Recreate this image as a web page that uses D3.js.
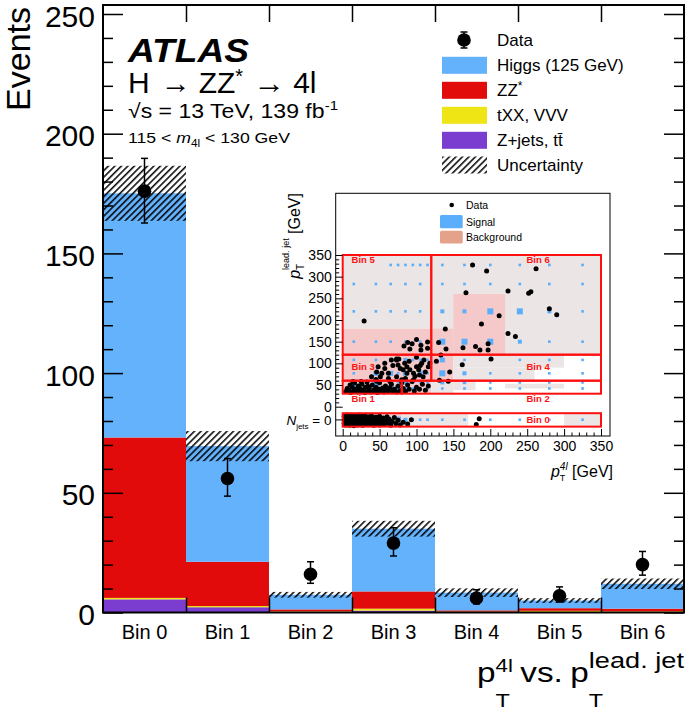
<!DOCTYPE html>
<html><head><meta charset="utf-8">
<script src="https://cdn.jsdelivr.net/npm/d3@7"></script>
<style>body{margin:0;background:#fff} svg{display:block;font-family:"Liberation Sans",Arial,sans-serif}</style>
</head><body><svg id="c" width="685" height="721"></svg>
<script>
// ---------------- main chart data ----------------
const categories = ["Bin 0","Bin 1","Bin 2","Bin 3","Bin 4","Bin 5","Bin 6"];
const zjets = [5.5, 2.2, 0.3, 0.8, 0.1, 0.1, 0.1];
const txx   = [0.6, 0.5, 0.2, 0.8, 0.3, 0.6, 0.4];
const zz    = [67, 18.5, 0.8, 7.2, 0.5, 1.1, 1.1];
const higgs = [102, 48.3, 6.1, 26.2, 7.4, 3.2, 10.4];
const unc   = [11.5, 6.3, 1.2, 3.3, 1.8, 1.0, 2.2];
const dataVals    = [176, 56, 16, 29, 6, 7, 20];
const dataErrUp   = [13.7, 8.3, 5.2, 6.4, 3.5, 3.7, 5.5];
const dataErrDown = [13.3, 7.4, 3.8, 5.4, 2.4, 2.6, 4.4];
const yTicks = [0, 50, 100, 150, 200, 250];
const legendLabels = ["Data","Higgs (125 GeV)","ZZ*","tXX, VVV","Z+jets, tt\u0304","Uncertainty"];

// ---------------- inset data ----------------
const insetXTicks = [0,50,100,150,200,250,300,350];
const insetYTicks = [0,50,100,150,200,250,300,350];
const njetsRow = [-46, -15];   // y-range (inset units) of the N_jets = 0 row
const insetBins = [
  {name:"Bin 0", x0:0,   x1:350, y0:-46, y1:-15, lx:249, ly:-29},
  {name:"Bin 1", x0:0,   x1:80,  y0:30,  y1:60,  lx:12,  ly:18},
  {name:"Bin 2", x0:80,  x1:350, y0:30,  y1:60,  lx:249, ly:18},
  {name:"Bin 3", x0:0,   x1:120, y0:60,  y1:120, lx:12,  ly:92},
  {name:"Bin 4", x0:120, x1:350, y0:60,  y1:120, lx:249, ly:92},
  {name:"Bin 5", x0:0,   x1:120, y0:120, y1:350, lx:12,  ly:339},
  {name:"Bin 6", x0:120, x1:350, y0:120, y1:350, lx:249, ly:339}
];
const bkgCells = [
  ["g",0,120,180,350],["g",120,350,120,350],["p",0,150,120,180],["p",150,220,120,260],
  ["p",0,150,60,120],["g",150,300,90,120],["g",150,260,60,90],
  ["p",0,120,30,60],["g",120,150,30,60],["g",150,180,38,60],["g",220,300,42,53],
  ["p",0,80,-46,-15],["g",80,170,-46,-15],["g",300,350,-46,-15]
];
const sigRows = [
  {y:327, xs:[65,75,85,95,105,115,135,165,200,240,280,325]},
  {y:283, xs:[15,45,65,85,105,135,165,200,240,280,325]},
  {y:220, xs:[15,45,65,85,105,135,165,200,240,280,325]},
  {y:150, xs:[15,45,65,85,105,135,165,200,240,280,325]},
  {y:108, xs:[15,45,65,75,85,95,105,115,135,165,200,240,280,325]},
  {y:77,  xs:[15,45,65,75,85,95,105,115,135,165,200,240,280,325]},
  {y:56,  xs:[15,45,65,75,85,95,105,115,135,165,200,240,280,325]},
  {y:42,  xs:[15,45,65,75,85,95,105,115,135,165,200,240,280,325]},
  {y:-30, xs:[15,45,65,75,85,95,105,115,135,165,200,240,280,325]}
];
const sigBig = [ // [x, y, size]
  [135,150,6],[165,150,6],[200,150,6],[240,150,4],[135,220,4],[165,220,4],[200,220,6],[240,220,6],[280,220,4],
  [135,108,5],[135,77,6],[165,77,4],[135,56,4],[165,56,3.5],
  [15,42,7],[45,42,7],[65,42,6],[15,56,6],[45,56,6],[75,42,6],[85,56,5],
  [45,77,5],[65,77,5],[85,77,5],[105,77,5],[65,108,4],[85,108,4],
  [15,-30,8],[30,-30,8],[45,-30,8],[60,-30,7],[75,-30,6],[85,-30,4]
];
const insetPoints = [
  [29,198],[176,327],[195,313],[262,318],[167,263],[224,267],[252,262],[255,265],[280,226],[290,212],
  [212,210],[139,179],[188,191],[224,169],[234,162],[130,148],[163,136],[180,139],[186,131],[197,145],
  [197,131],[140,133],[133,119],[127,105],[201,110],[162,97],[145,80],[143,59],[131,61],[115,149],
  [115,135],[106,142],[106,131],[94,145],[91,133],[83,140],[88,148],[100,155],[100,114],[73,110],[76,110],
  [57,100],[48,92],[46,80],[39,69],[51,69],[66,108],[73,108],[75,96],[84,100],[87,92],[82,85],[87,77],
  [91,85],[96,77],[100,92],[103,85],[104,73],[107,100],[96,62],[109,69],[116,92],[73,69],[62,77],[53,77],
  [64,58],[80,62],[57,88],[68,95],[78,88],[90,105],[98,70],[105,95],[112,80],[118,100],[62,65],[45,63],[85,65],[110,108],
  [4,35],[6,42],[8,38],[10,50],[11,33],[13,45],[15,37],[16,55],[18,40],[20,34],[21,48],[23,42],[25,36],[26,52],
  [28,39],[30,33],[31,45],[33,57],[35,37],[36,42],[38,34],[40,50],[42,38],[44,35],[45,45],[47,33],[49,40],[50,55],
  [52,36],[54,43],[56,34],[58,48],[60,38],[62,35],[64,44],[66,52],[68,36],[70,40],[73,34],[75,47],[78,37],[80,56],
  [82,42],[85,35],[88,50],[90,40],[94,58],[97,36],[100,45],[104,40],[108,52],[112,38],[116,48],[25,58],[46,59],
  [14,58],[34,47],[57,41],
  [2,-22],[2,-38],[3,-30],[4,-42],[5,-25],[5,-35],[6,-19],[7,-40],[7,-28],[8,-33],[9,-23],[9,-43],[10,-36],[11,-27],
  [12,-20],[12,-41],[13,-31],[14,-37],[15,-24],[15,-44],[16,-29],[17,-39],[18,-21],[18,-34],[19,-26],[20,-42],[21,-31],
  [22,-37],[22,-19],[23,-24],[24,-40],[25,-29],[26,-35],[26,-22],[27,-43],[28,-27],[29,-38],[30,-32],[30,-20],[31,-25],
  [32,-41],[33,-30],[34,-36],[35,-23],[36,-40],[37,-28],[38,-33],[39,-21],[40,-38],[41,-26],[42,-43],[43,-31],[44,-36],
  [45,-24],[46,-40],[47,-29],[48,-34],[50,-22],[50,-42],[52,-30],[53,-37],[55,-26],[56,-41],[58,-33],[60,-23],[61,-38],
  [63,-29],[65,-43],[67,-34],[70,-25],[72,-39],[75,-31],[78,-42],[82,-36],[88,-40],[93,-30],[181,-41],[185,-28]
];

// ---------------- colours ----------------
const colors = {higgs:"#64b1fc", zz:"#e10b0b", txx:"#efe514", zjets:"#7a3dd0"};

const svg = d3.select("#c");
const pLeft = 103, pRight = 684, pTop = 5, pBottom = 612.5;
const pxPerUnit = 2.394;

const x = d3.scaleBand().domain(categories).range([pLeft, pRight]).padding(0);
const xe = d3.scaleLinear().domain([0, categories.length]).range([pLeft, pRight]);
const y = d3.scaleLinear().domain([0, (pBottom - pTop) / pxPerUnit]).range([pBottom, pTop]);

// hatch pattern
const defs = svg.append("defs");
defs.append("pattern").attr("id","hatch").attr("patternUnits","userSpaceOnUse")
  .attr("width",4.6).attr("height",4.6).attr("patternTransform","rotate(45)")
  .append("line").attr("x1",0.8).attr("y1",0).attr("x2",0.8).attr("y2",4.6)
  .attr("stroke","#000").attr("stroke-width",1.5);

// stacked bars
const table = categories.map((c,i)=>({cat:c, zjets:zjets[i], txx:txx[i], zz:zz[i], higgs:higgs[i]}));
const keys = ["zjets","txx","zz","higgs"];
const series = d3.stack().keys(keys)(table);
const gBars = svg.append("g");
series.forEach(s => {
  gBars.selectAll(null).data(s).join("rect")
    .attr("x", d => x(d.data.cat)).attr("width", x.bandwidth())
    .attr("y", d => y(d[1])).attr("height", d => y(d[0]) - y(d[1]))
    .attr("fill", colors[s.key]);
});
// uncertainty
const totals = categories.map((c,i)=>zjets[i]+txx[i]+zz[i]+higgs[i]);
svg.append("g").selectAll("rect").data(categories).join("rect")
  .attr("x", c => x(c)).attr("width", x.bandwidth())
  .attr("y", (c,i) => y(totals[i] + unc[i])).attr("height", (c,i) => y(totals[i]-unc[i]) - y(totals[i]+unc[i]))
  .attr("fill","url(#hatch)");

// ---------------- axes ----------------
const axG = svg.append("g");
const fmtNone = () => "";
const FONT = "Liberation Sans, Arial, sans-serif";
const yl = axG.append("g").attr("transform",`translate(${pLeft},0)`)
  .call(d3.axisLeft(y).tickValues(yTicks).tickSize(-20).tickPadding(8));
yl.selectAll("text").attr("font-size",30).attr("dy","0.4em").attr("font-family",FONT).attr("fill","#000");
yl.select(".domain").remove();
yl.selectAll("line").attr("stroke-width",1.5);
const minors = d3.range(0, 251, 10).filter(v => v % 50 !== 0);
const ylm = axG.append("g").attr("transform",`translate(${pLeft},0)`)
  .call(d3.axisLeft(y).tickValues(minors).tickSize(-10).tickFormat(fmtNone));
ylm.select(".domain").remove(); ylm.selectAll("line").attr("stroke-width",1.5);
const yr = axG.append("g").attr("transform",`translate(${pRight},0)`)
  .call(d3.axisRight(y).tickValues(yTicks).tickSize(-20).tickFormat(fmtNone));
yr.select(".domain").remove(); yr.selectAll("line").attr("stroke-width",1.5);
const yrm = axG.append("g").attr("transform",`translate(${pRight},0)`)
  .call(d3.axisRight(y).tickValues(minors).tickSize(-10).tickFormat(fmtNone));
yrm.select(".domain").remove(); yrm.selectAll("line").attr("stroke-width",1.5);
const edges = d3.range(1, categories.length);
const xt = axG.append("g").attr("transform",`translate(0,${pTop})`)
  .call(d3.axisBottom(xe).tickValues(edges).tickSize(17).tickFormat(fmtNone));
xt.select(".domain").remove(); xt.selectAll("line").attr("stroke-width",1.5);
const xb = axG.append("g").attr("transform",`translate(0,${pBottom})`)
  .call(d3.axisTop(xe).tickValues(edges).tickSize(15).tickFormat(fmtNone));
xb.select(".domain").remove(); xb.selectAll("line").attr("stroke-width",1.5);
const xc = axG.append("g").attr("transform",`translate(0,${pBottom})`)
  .call(d3.axisBottom(x).tickSize(0).tickPadding(12));
xc.select(".domain").remove();
xc.selectAll("text").attr("font-size",20).attr("font-family",FONT).attr("fill","#000");
svg.append("rect").attr("x",pLeft).attr("y",pTop).attr("width",pRight-pLeft).attr("height",pBottom-pTop)
  .attr("fill","none").attr("stroke","#000").attr("stroke-width",2);

// ---------------- data points ----------------
const gD = svg.append("g");
categories.forEach((c,i)=>{
  const cx = x(c) + x.bandwidth()/2;
  gD.append("line").attr("x1",cx).attr("x2",cx).attr("y1",y(dataVals[i]+dataErrUp[i])).attr("y2",y(dataVals[i]-dataErrDown[i]))
    .attr("stroke","#000").attr("stroke-width",1.5);
  [dataVals[i]+dataErrUp[i], dataVals[i]-dataErrDown[i]].forEach(v=>{
    gD.append("line").attr("x1",cx-3.5).attr("x2",cx+3.5).attr("y1",y(v)).attr("y2",y(v)).attr("stroke","#000").attr("stroke-width",1.5);
  });
  gD.append("circle").attr("cx",cx).attr("cy",y(dataVals[i])).attr("r",6.8).attr("fill","#000");
});

// ---------------- rich text helper ----------------
// parts: {t, s(size), dy, it, b, ff, pre(gap before), tl(forced width), la(lengthAdjust), stack(share x with previous)}
function rich(g, px, py, parts, opt) {
  opt = opt || {};
  const outer = g.append("g").attr("transform",`translate(${px},${py}) rotate(${opt.rot||0})`);
  const grp = outer.append("g");
  let cx = 0, lastX = 0, lastW = 0;
  parts.forEach(p=>{
    const t = grp.append("text").text(p.t).attr("font-size",p.s).attr("y",p.dy||0)
      .attr("font-style",p.it?"italic":null).attr("font-weight",p.b?"bold":null)
      .attr("font-family",p.ff||null).attr("fill",p.fill||"#000");
    if (p.tl) t.attr("textLength",p.tl).attr("lengthAdjust",p.la||"spacingAndGlyphs");
    const w = p.tl || t.node().getComputedTextLength();
    let xx;
    if (p.stack) { xx = lastX; const adv = Math.max(lastW, w); cx = lastX + adv; lastW = adv; }
    else { cx += (p.pre||0); xx = cx; lastX = cx; lastW = w; cx += w; }
    t.attr("x", xx);
  });
  const total = opt.fit || cx;
  const sx = opt.fit ? opt.fit / cx : 1;
  const shift = opt.anchor==="end" ? -total : opt.anchor==="middle" ? -total/2 : 0;
  grp.attr("transform",`translate(${shift},0) scale(${sx},1)`);
  return outer;
}

svg.append("text").attr("transform","translate(30,7) rotate(-90)").attr("text-anchor","end")
  .attr("font-size",34).text("Events");

svg.append("text").attr("x",128).attr("y",62).attr("font-size",34).attr("font-weight","bold").attr("font-style","italic")
  .attr("textLength",121).attr("lengthAdjust","spacingAndGlyphs").text("ATLAS");
rich(svg,128,93,[{t:"H",s:30},{t:"\u2192",s:30,pre:11,tl:30},{t:"ZZ",s:30,pre:8},{t:"*",s:20,dy:-10},
  {t:"\u2192",s:30,pre:10,tl:32},{t:"4l",s:30,pre:8}]);
rich(svg,128,118,[{t:"\u221As = 13 TeV, 139 fb",s:20},{t:"-1",s:13,dy:-8}],{fit:210});
rich(svg,128,143,[{t:"115 <\u00a0",s:15},{t:"m",s:15,it:true},{t:"4l",s:10,dy:4},{t:"\u00a0< 130 GeV",s:15}],{fit:162});

// Legend
const leg = svg.append("g");
const legY = [40, 65.3, 90.3, 115.3, 140.3, 165];
leg.append("line").attr("x1",464).attr("x2",464).attr("y1",32).attr("y2",48).attr("stroke","#000").attr("stroke-width",1.5);
[32,48].forEach(v=>leg.append("line").attr("x1",460.5).attr("x2",467.5).attr("y1",v).attr("y2",v).attr("stroke","#000").attr("stroke-width",1.5));
leg.append("circle").attr("cx",464).attr("cy",40).attr("r",6.8).attr("fill","#000");
const legFills = [null, colors.higgs, colors.zz, colors.txx, colors.zjets, "url(#hatch)"];
legFills.forEach((f,i)=>{ if(!f) return;
  leg.append("rect").attr("x",442).attr("y",legY[i]-8.5).attr("width",45).attr("height",17).attr("fill",f);
});
legendLabels.forEach((l,i)=>{
  if (l==="ZZ*") { rich(leg,497,legY[i]+6,[{t:"ZZ",s:17},{t:"*",s:12,dy:-6}]); return; }
  leg.append("text").attr("x",497).attr("y",legY[i]+6).attr("font-size",17).text(l);
});

// bottom axis title
rich(svg,477,681.5,[{t:"p",s:27},{t:"T",s:19,dy:26},{t:"4l",s:18,dy:-10,stack:true},{t:"vs.",s:27,pre:6},
  {t:"p",s:27,pre:6},{t:"T",s:19,dy:26},{t:"lead. jet",s:22,dy:-14,stack:true}],{fit:207});

// ---------------- inset ----------------
const fx0 = 335.7, fy0 = 193.3, fx1 = 610, fy1 = 436;
const ix = d3.scaleLinear().domain([0,350]).range([342.7,601]);
const iy = d3.scaleLinear().domain([0,350]).range([406.7,255]);
const gi = svg.append("g");
gi.append("rect").attr("x",fx0).attr("y",fy0).attr("width",fx1-fx0).attr("height",fy1-fy0).attr("fill","#fff");
defs.append("clipPath").attr("id","iclip").append("rect").attr("x",fx0).attr("y",fy0).attr("width",fx1-fx0).attr("height",fy1-fy0);
const gc = gi.append("g").attr("clip-path","url(#iclip)");
bkgCells.forEach(c=>{
  gc.append("rect").attr("x",ix(c[1])).attr("width",ix(c[2])-ix(c[1]))
    .attr("y",iy(c[4])).attr("height",iy(c[3])-iy(c[4])).attr("fill",c[0]==="g"?"#ece5e5":"#f5c9c9");
});
const sigColor = "#5aaefc";
sigRows.forEach(r=>r.xs.forEach(xv=>{
  gc.append("rect").attr("x",ix(xv)-1.3).attr("y",iy(r.y)-1.3).attr("width",2.6).attr("height",2.6).attr("fill",sigColor);
}));
sigBig.forEach(s=>{
  gc.append("rect").attr("x",ix(s[0])-s[2]/2).attr("y",iy(s[1])-s[2]/2).attr("width",s[2]).attr("height",s[2]).attr("fill",sigColor);
});
gc.selectAll("circle.pt").data(insetPoints).join("circle").attr("class","pt")
  .attr("cx",d=>ix(d[0])).attr("cy",d=>iy(d[1])).attr("r",2.5).attr("fill","#000");
insetBins.forEach(b=>{
  gc.append("rect").attr("x",ix(b.x0)).attr("y",iy(b.y1)).attr("width",ix(b.x1)-ix(b.x0)).attr("height",iy(b.y0)-iy(b.y1))
    .attr("fill","none").attr("stroke","#ff1010").attr("stroke-width",2);
});
insetBins.forEach(b=>{
  gc.append("text").attr("x",ix(b.lx)).attr("y",iy(b.ly)+3.3).attr("font-size",9.5).attr("font-weight","bold")
    .attr("fill","#ff1010").text(b.name);
});
gi.append("circle").attr("cx",451.7).attr("cy",205).attr("r",2.3).attr("fill","#000");
gi.append("rect").attr("x",440).attr("y",215).attr("width",22.7).attr("height",13.3).attr("rx",1.5).attr("fill",sigColor);
gi.append("rect").attr("x",440).attr("y",230.7).attr("width",22.7).attr("height",12.7).attr("rx",1.5).attr("fill","#e5a28a");
[["Data",205],["Signal",222],["Background",237.5]].forEach(d=>{
  gi.append("text").attr("x",466).attr("y",d[1]+3.7).attr("font-size",10.5).text(d[0]);
});
const iax = gi.append("g").attr("transform",`translate(0,${fy1})`)
  .call(d3.axisBottom(ix).tickValues(insetXTicks).tickSize(-7).tickPadding(5));
iax.select(".domain").remove();
iax.selectAll("text").attr("font-size",14).attr("font-family",FONT).attr("fill","#000");
const iaxm = gi.append("g").attr("transform",`translate(0,${fy1})`)
  .call(d3.axisBottom(ix).tickValues(d3.range(0,351,10).filter(v=>v%50)).tickSize(-3.5).tickFormat(fmtNone));
iaxm.select(".domain").remove();
const iay = gi.append("g").attr("transform",`translate(${fx0},0)`)
  .call(d3.axisLeft(iy).tickValues(insetYTicks).tickSize(-7).tickPadding(4));
iay.select(".domain").remove();
iay.selectAll("text").attr("font-size",14).attr("font-family",FONT).attr("fill","#000");
const iaym = gi.append("g").attr("transform",`translate(${fx0},0)`)
  .call(d3.axisLeft(iy).tickValues(d3.range(0,351,10).filter(v=>v%50)).tickSize(-3.5).tickFormat(fmtNone));
iaym.select(".domain").remove();
const njY = iy((njetsRow[0]+njetsRow[1])/2);
gi.append("line").attr("x1",fx0).attr("x2",fx0+7).attr("y1",njY).attr("y2",njY).attr("stroke","#000");
rich(gi,331.5,njY+5.5,[{t:"N",s:13.5,it:true},{t:"jets",s:8,dy:4},{t:"\u00a0= 0",s:13.5}],{anchor:"end"});
gi.append("rect").attr("x",fx0).attr("y",fy0).attr("width",fx1-fx0).attr("height",fy1-fy0)
  .attr("fill","none").attr("stroke","#000").attr("stroke-width",1);
rich(gi,613,477,[{t:"p",s:16,it:true},{t:"T",s:9,dy:4},{t:"4l",s:10,dy:-7,stack:true,it:true},{t:"\u00a0[GeV]",s:16}],{anchor:"end"});
rich(gi,300,193,[{t:"p",s:16,it:true},{t:"T",s:10,dy:4},{t:"lead. jet",s:9,dy:-11,stack:true},{t:"\u00a0[GeV]",s:16}],{anchor:"end",rot:-90});
</script></body></html>
